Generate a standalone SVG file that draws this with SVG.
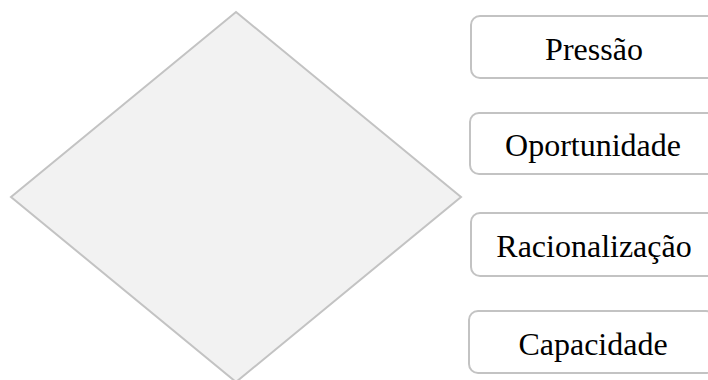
<svg xmlns="http://www.w3.org/2000/svg" width="708" height="380" viewBox="0 0 708 380">
<style>
.box{fill:#ffffff;stroke:#c3c3c3;stroke-width:2}
.dia{fill:#f2f2f2;stroke:#c3c3c3;stroke-width:2}
.lbl{font-family:"Liberation Serif","Times New Roman",serif;font-size:32px;fill:#000;text-anchor:middle}
</style>
<rect width="708" height="380" fill="#ffffff"/>
<g id="diamond"><polygon class="dia" points="236,12 461,197 236,382 11,197"/></g>
<g id="connectors"></g>
<g id="pressao"><rect class="box" x="471" y="16" width="246" height="62" rx="9"/><text class="lbl" x="594" y="60">Pressão</text></g>
<g id="oportunidade"><rect class="box" x="470" y="113" width="246" height="61" rx="9"/><text class="lbl" x="593" y="156">Oportunidade</text></g>
<g id="racionalizacao"><rect class="box" x="471" y="213" width="246" height="63" rx="9"/><text class="lbl" x="594" y="257">Racionalização</text></g>
<g id="capacidade"><rect class="box" x="469" y="311" width="246" height="62" rx="9"/><text class="lbl" x="593" y="355">Capacidade</text></g>
</svg>
